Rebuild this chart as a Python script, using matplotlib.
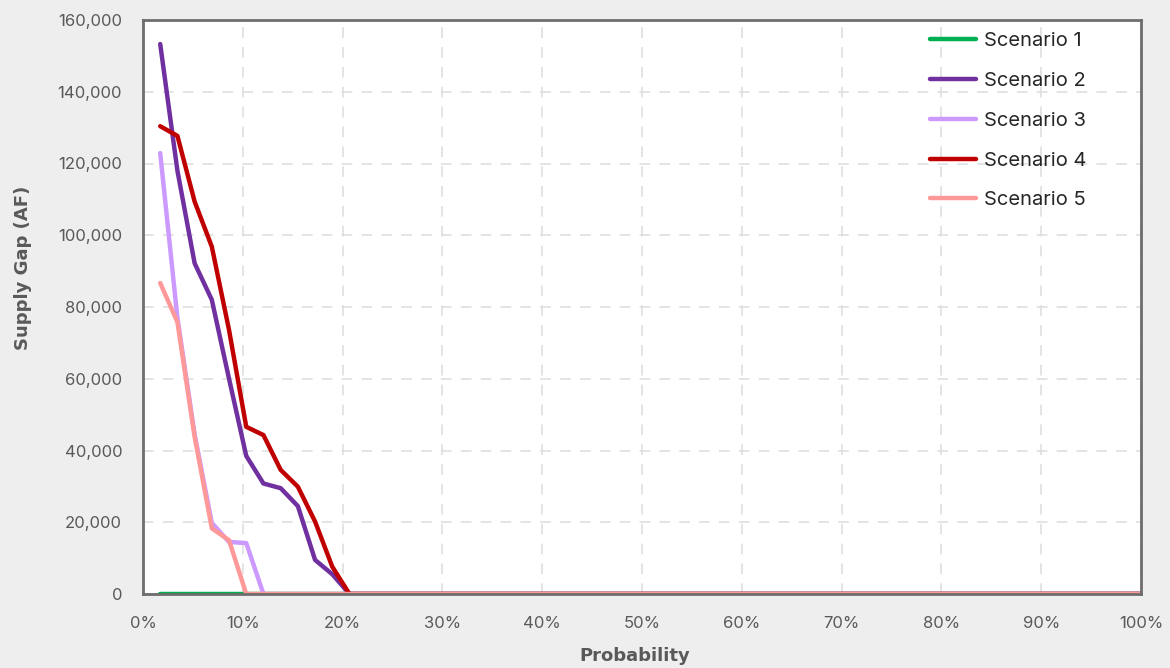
import matplotlib
matplotlib.use('Agg')
import matplotlib.pyplot as plt
from matplotlib.ticker import PercentFormatter, FuncFormatter, MultipleLocator

# probability of each ranked year (58 ranks)
n_ranks = 58
prob = [i / n_ranks for i in range(1, n_ranks + 1)]

def pad_zeros(vals):
    return vals + [0] * (n_ranks - len(vals))

scenario1 = pad_zeros([0])
scenario2 = pad_zeros([153300, 118000, 92200, 82000, 60000, 38500, 30800, 29500,
                       24500, 9500, 5500, 0])
scenario3 = pad_zeros([122900, 77000, 44500, 19800, 14500, 14200, 0])
scenario4 = pad_zeros([130400, 127700, 109400, 96800, 73600, 46600, 44300, 34600,
                       29900, 20200, 7600, 0])
scenario5 = pad_zeros([86700, 75800, 43800, 18300, 15000, 0])

labels = ['Scenario 1', 'Scenario 2', 'Scenario 3', 'Scenario 4', 'Scenario 5']
colors = ['#00B050', '#7030A0', '#CC99FF', '#C00000', '#FF9999']
series = [scenario1, scenario2, scenario3, scenario4, scenario5]

plt.rcParams['font.family'] = ['Inter', 'DejaVu Sans']

fig = plt.figure(figsize=(11.7, 6.68), dpi=100, facecolor='#eeeeee')
ax = fig.add_axes([143 / 1170, 1 - 594 / 668, 998 / 1170, 574 / 668])
ax.set_facecolor('white')

for vals, lab, col in zip(series, labels, colors):
    ax.plot(prob, vals, color=col, lw=3.2, label=lab,
            solid_joinstyle='round', solid_capstyle='round')

ax.set_xlim(0, 1)
ax.set_ylim(0, 160000)
ax.xaxis.set_major_locator(MultipleLocator(0.1))
ax.yaxis.set_major_locator(MultipleLocator(20000))
ax.xaxis.set_major_formatter(PercentFormatter(1, decimals=0))
ax.yaxis.set_major_formatter(FuncFormatter(lambda v, p: '{:,.0f}'.format(v)))

ax.grid(True, color='#dddddd', lw=1.1, ls=(0, (7, 6)))
ax.set_axisbelow(True)
for s in ax.spines.values():
    s.set_color('#6d6d6d')
    s.set_linewidth(2)

ax.tick_params(axis='both', length=0, labelsize=12, colors='#595959')
ax.tick_params(axis='y', pad=15)
ax.tick_params(axis='x', pad=16)

ax.set_xlabel('Probability', fontsize=13, fontweight='bold', color='#595959',
              family='DejaVu Sans')
ax.set_ylabel('Supply Gap (AF)', fontsize=13, fontweight='bold', color='#595959',
              family='DejaVu Sans')
ax.xaxis.set_label_coords((635 - 143) / 998, (594 - 647) / 574)
ax.yaxis.set_label_coords((32 - 143) / 998, (594 - 268) / 574)

leg = ax.legend(loc='upper left', bbox_to_anchor=((930 - 143) / 998, (594 - 32) / 574),
                frameon=False, fontsize=14.5, handlelength=2.3, handletextpad=0.4,
                labelspacing=1.08, borderpad=0, borderaxespad=0)
for t in leg.get_texts():
    t.set_color('#262626')

fig.savefig('out.png', dpi=100, facecolor=fig.get_facecolor())
